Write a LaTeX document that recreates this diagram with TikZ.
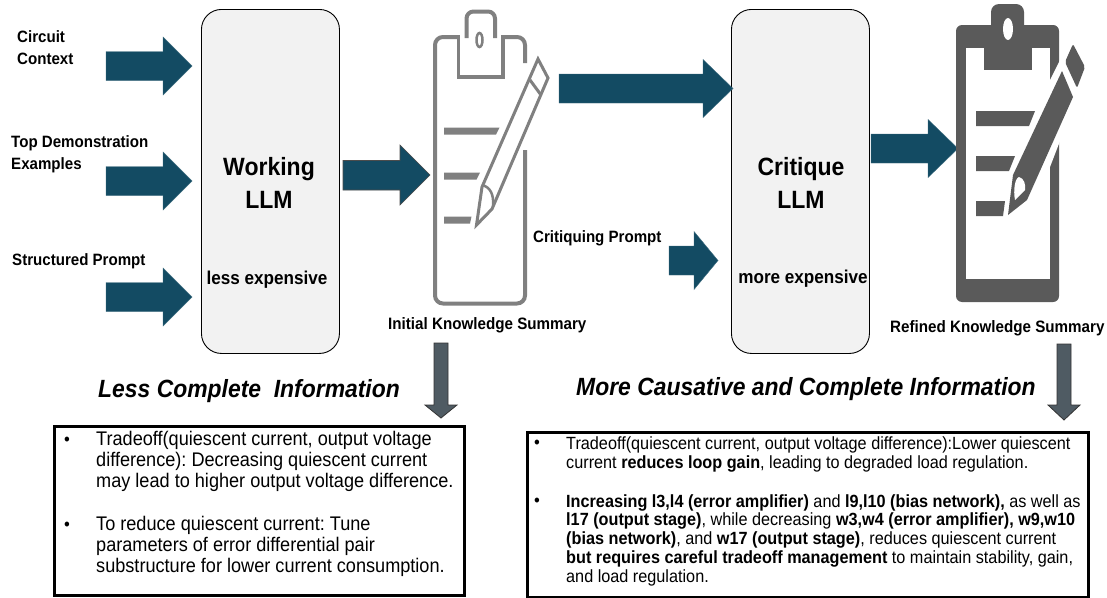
\documentclass[tikz,border=0pt]{standalone}
\usepackage{fontspec}
\setmainfont{Liberation Sans}[FakeStretch=0.92]
\AtBeginDocument{\frenchspacing}
\definecolor{teal1}{HTML}{134B63}
\definecolor{graydn}{HTML}{4F5B63}
\definecolor{clipa}{HTML}{808080}
\definecolor{clipb}{HTML}{5A5A5A}
\definecolor{boxfill}{HTML}{F2F2F2}
\tikzset{
  x=1pt,y=-1pt,
  lbl/.style={inner sep=0pt,anchor=base west,font=\fontsize{16.4}{22}\bfseries\selectfont,align=left},
  sumlbl/.style={inner sep=0pt,anchor=base west,font=\fontsize{16.5}{19}\bfseries\selectfont},
  llm/.style={draw=black,line width=0.9pt,fill=boxfill,rounded corners=20pt,minimum width=138pt,minimum height=344pt,inner sep=0pt,anchor=north west},
  llmt/.style={inner sep=0pt,anchor=center,align=center,font=\fontsize{25}{33}\bfseries\selectfont},
  llms/.style={inner sep=0pt,anchor=base,font=\fontsize{18.6}{22}\bfseries\selectfont},
  head/.style={inner sep=0pt,anchor=base west,font=\fontsize{24.9}{28}\bfseries\itshape\selectfont},
  infobox/.style={draw=black,line width=3pt,fill=white},
  blt/.style={inner sep=0pt,anchor=base west,font=\fontsize{18}{21}\selectfont},
  lefttxt/.style={inner sep=0pt,anchor=base west,align=left,font=\fontsize{19.7}{21}\selectfont},
  righttxt/.style={inner sep=0pt,anchor=base west,align=left,font=\fontsize{17.65}{18.7}\selectfont},
  barrow/.style={fill=teal1,draw=teal1!80!white,line width=0.4pt},
  darrow/.style={fill=graydn,draw=black!80,line width=0.8pt},
}
% x1, head-base x, tip x, centre y
\newcommand{\harrow}[4]{\fill[barrow] (#1,#4-14.5) -- (#2,#4-14.5) -- (#2,#4-29) -- (#3,#4) -- (#2,#4+29) -- (#2,#4+14.5) -- (#1,#4+14.5) -- cycle;}
% centre x, y1, head-base y, tip y
\newcommand{\varrow}[4]{\filldraw[darrow] (#1-7,#2) -- (#1+7,#2) -- (#1+7,#3) -- (#1+16,#3) -- (#1,#4) -- (#1-16,#3) -- (#1-7,#3) -- (#1-7,#2) -- cycle;}
\begin{document}
\begin{tikzpicture}
\useasboundingbox (0,0) rectangle (1107,597);
\fill[white] (0,0) rectangle (1107,597);
% LLM boxes
\node[llm] (working) at (201,9) {};
\node[llm] (critique) at (731,9) {};
\node[llmt] (workingt) at (269,183) {Working\\LLM};
\node[llmt] (critiquet) at (801,183) {Critique\\LLM};
\node[llms] (lessexp) at (267,284) {less expensive};
\node[llms] (moreexp) at (803,283) {more expensive};
% input labels
\node[lbl] (ctx) at (17,64) {Circuit\\Context};
\node[lbl] (demo) at (11,169) {Top Demonstration\\Examples};
\node[lbl] (sp) at (12,265) {Structured Prompt};
\node[lbl] (cp) at (533,242) {Critiquing Prompt};
% block arrows
\harrow{106}{163}{192}{66}
\harrow{106}{163}{192}{181}
\harrow{106}{163}{192}{297}
\filldraw[fill=teal1,draw=black!70,line width=0.6pt] (343,160.5) -- (400,160.5) -- (400,145) -- (430,175) -- (400,205) -- (400,190) -- (343,190) -- cycle;
\harrow{559}{703}{733}{88.5}
\harrow{669}{694}{718}{260.5}
\harrow{871}{928}{958}{148.5}
% clipboard 1
\draw[clipa,line width=4pt,rounded corners=8pt] (525,63) -- (525,37) -- (435,37) -- (435,303.5) -- (525,303.5) -- (525,150);
\fill[white] (460,30) rectangle (501,75);
\draw[clipa,line width=4pt,rounded corners=7pt] (466.5,38) -- (466.5,11.5) -- (495,11.5) -- (495,38);
\draw[clipa,line width=3.5pt,line join=miter] (458.5,36) -- (458.5,77) -- (503,77) -- (503,36);
\draw[clipa,line width=2.5pt] (479.5,40) ellipse (3pt and 7pt);
\fill[clipa] (444,127.5) -- (499.5,127.5) -- (496,134.5) -- (444,134.5) -- cycle;
\fill[clipa] (444,172.5) -- (480,172.5) -- (476.5,179.5) -- (444,179.5) -- cycle;
\fill[clipa] (444,216.5) -- (471.5,216.5) -- (470,223.5) -- (444,223.5) -- cycle;
\filldraw[white,line width=1pt] (475,227) -- (482,187) -- (538,57) -- (549,78) -- (492,210) -- cycle;
\draw[clipa,line width=3pt,line join=miter] (476.5,225) -- (482,187) -- (538,59) -- (548,78) -- (492,209) -- cycle;
\draw[clipa,line width=3pt] (530,80) -- (541,95);
\draw[clipa,line width=2.5pt] (482,185) .. controls (490,187) and (494,194) .. (493,206);
% clipboard 2
\fill[clipb,rounded corners=6pt] (956,25) rectangle (1059,302);
\fill[clipb,rounded corners=8pt] (991,4) rectangle (1024,40);
\fill[white] (966,48) rectangle (1050,279);
\fill[clipb] (984,40) rectangle (1032,70);
\fill[white] (1008,29) ellipse (5pt and 11pt);
\fill[clipb] (976,111) -- (1035,111) -- (1029,126) -- (976,126) -- cycle;
\fill[clipb] (976,156) -- (1015,156) -- (1009,171) -- (976,171) -- cycle;
\fill[clipb] (976,201) -- (1005,201) -- (1003,216) -- (976,216) -- cycle;
\filldraw[draw=white,fill=white,line width=7pt,line join=miter] (1008,215) -- (1013,175) -- (1062,71) -- (1073,97) -- (1027,200) -- cycle;
\fill[white] (1050,80) -- (1060,60) -- (1090,55) -- (1090,100) -- (1075,100) -- (1060,141) -- (1050,167) -- cycle;
\fill[clipb] (1008,215) -- (1013,175) -- (1062,71) -- (1073,97) -- (1027,200) -- cycle;
\fill[clipb,rounded corners=2pt] (1073,44) -- (1085,67) -- (1077,88) -- (1065,62) -- cycle;
\fill[white] (1015,200) .. controls (1013,190) and (1015,178) .. (1019,177) .. controls (1024,178) and (1026,185) .. (1025,190) -- cycle;
% summary labels
\node[sumlbl] (ik) at (388,329) {Initial Knowledge Summary};
\node[sumlbl] (rk) at (890,332) {Refined Knowledge Summary};
% down arrows
\varrow{441}{343}{405}{418}
\varrow{1064}{344}{405}{420}
% headings
\node[head] (less) at (98,397) {Less Complete\ \ Information};
\node[head] (more) at (576,395) {More Causative and Complete Information};
% left box
\node[infobox,minimum width=410pt,minimum height=169pt,inner sep=0pt,anchor=north west] (lbox) at (53,425) {};
\node[blt] (b1) at (64,445) {•};
\node[lefttxt] (l1) at (96,487) {Tradeoff(quiescent current, output voltage\\difference): Decreasing quiescent current\\may lead to higher output voltage difference.};
\node[blt] (b2) at (64,530) {•};
\node[lefttxt] (l2) at (96,572) {To reduce quiescent current: Tune\\parameters of error differential pair\\substructure for lower current consumption.};
% right box
\node[infobox,minimum width=561pt,minimum height=165pt,inner sep=0pt,anchor=north west] (rbox) at (526,431) {};
\node[blt] (b3) at (534,448) {•};
\node[righttxt] (r1) at (566,468) {Tradeoff(quiescent current, output voltage difference):Lower quiescent\\current \textbf{reduces loop gain}, leading to degraded load regulation.};
\node[blt] (b4) at (534,506) {•};
\node[righttxt] (r2) at (566,582) {\textbf{Increasing l3,l4 (error amplifier)} and \textbf{l9,l10 (bias network),} as well as\\\textbf{l17 (output stage)}, while decreasing \textbf{w3,w4 (error amplifier), w9,w10}\\\textbf{(bias network)}, and \textbf{w17 (output stage)}, reduces quiescent current\\\textbf{but requires careful tradeoff management} to maintain stability, gain,\\and load regulation.};
\end{tikzpicture}
\end{document}
